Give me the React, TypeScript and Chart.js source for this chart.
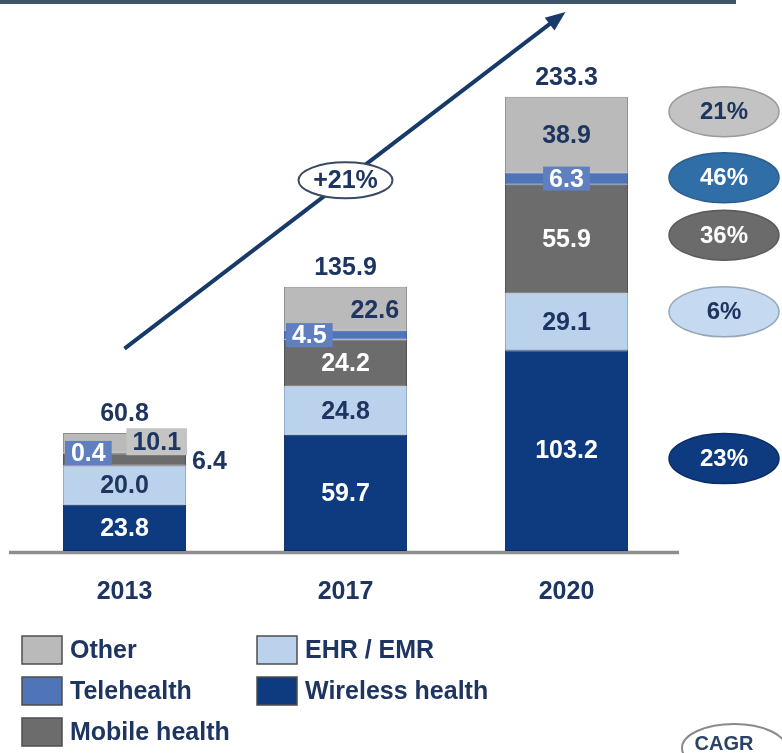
import React, { useEffect, useRef } from 'react';
import { Chart, registerables } from 'chart.js';

Chart.register(...registerables);

// ---------- data ----------
const categories = ['2013', '2017', '2020'];
const wirelessHealth = [23.8, 59.7, 103.2];
const ehrEmr = [20.0, 24.8, 29.1];
const mobileHealth = [6.4, 24.2, 55.9];
const telehealth = [0.4, 4.5, 6.3];
const otherValues = [10.1, 22.6, 38.9];
const totals = [60.8, 135.9, 233.3];
// CAGR per series, in dataset order: Wireless, EHR, Mobile, Telehealth, Other
const cagrLabels = ['23%', '6%', '36%', '46%', '21%'];
const overallCagr = '+21%';
const cagrKey = 'CAGR';

// ---------- styles ----------
const FONT = '"Liberation Sans", Arial, Helvetica, sans-serif';
const NAVY = '#1d3560';
const seriesNames = ['Wireless health', 'EHR / EMR', 'Mobile health', 'Telehealth', 'Other'];
const fills = ['#0e3a7f', '#bad2ec', '#6c6c6c', '#5074b8', '#bababa'];
const borders = ['#0a2c62', '#8ea6c4', '#4a4a4a', '#3b5f9f', '#8c8c8c'];
const labelColors = ['#ffffff', NAVY, '#ffffff', '#ffffff', NAVY];
// label placement per dataset / category
const labelModes = [
  ['c', 'c', 'c'],
  ['c', 'c', 'c'],
  ['or', 'c', 'c'],
  ['bl', 'bl', 'bc'],
  ['br', 'r', 'c'],
];
const ovalFills = ['#0e3a80', '#c5daf0', '#6b6b6b', '#2f6ea6', '#c3c3c3'];
const ovalStrokes = ['#0a2d66', '#95a6b8', '#5a5a5a', '#2a5d8c', '#9a9a9a'];
const ovalText = ['#ffffff', NAVY, '#ffffff', '#ffffff', NAVY];
const ovalOffsets = [8, -10, -4, -1, -23];
const legendCols = [[4, 3, 2], [1, 0]];

function ellipse(ctx: CanvasRenderingContext2D, cx: number, cy: number, rx: number, ry: number, fill: string | null, stroke: string | null, lw: number) {
  ctx.beginPath();
  ctx.ellipse(cx, cy, rx, ry, 0, 0, Math.PI * 2);
  if (fill) { ctx.fillStyle = fill; ctx.fill(); }
  if (stroke) { ctx.strokeStyle = stroke; ctx.lineWidth = lw; ctx.stroke(); }
}

const overlay = {
  id: 'overlay',
  beforeDatasetsDraw(chart: any) {
    const ctx: CanvasRenderingContext2D = chart.ctx;
    const xs = chart.scales.x, ys = chart.scales.y;
    const by = ys.getPixelForValue(0);
    ctx.save();
    ctx.strokeStyle = '#8e8e8e';
    ctx.lineWidth = 3.5;
    ctx.beginPath();
    ctx.moveTo(xs.left - 5, by + 1.5);
    ctx.lineTo(xs.right + 2, by + 1.5);
    ctx.stroke();
    ctx.restore();
  },
  afterDatasetsDraw(chart: any) {
    const ctx: CanvasRenderingContext2D = chart.ctx;
    const ys = chart.scales.y;
    ctx.save();
    // top rule
    ctx.strokeStyle = '#3e546d';
    ctx.lineWidth = 4;
    ctx.beginPath();
    ctx.moveTo(0, 2);
    ctx.lineTo(736, 2);
    ctx.stroke();

    ctx.font = `bold 25px ${FONT}`;
    ctx.textBaseline = 'middle';

    // segment labels
    chart.data.datasets.forEach((ds: any, di: number) => {
      const meta = chart.getDatasetMeta(di);
      meta.data.forEach((el: any, ci: number) => {
        const p = el.getProps(['x', 'y', 'base', 'width'], true);
        const left = p.x - p.width / 2, right = p.x + p.width / 2;
        const cy = (p.y + p.base) / 2;
        const txt = Number(ds.data[ci]).toFixed(1);
        const mode = labelModes[di][ci];
        const tw = ctx.measureText(txt).width;
        if (mode === 'c') {
          ctx.textAlign = 'center';
          ctx.fillStyle = labelColors[di];
          ctx.fillText(txt, p.x, cy + 1);
        } else if (mode === 'r') {
          ctx.textAlign = 'right';
          ctx.fillStyle = NAVY;
          ctx.fillText(txt, right - 8, cy + 2);
        } else if (mode === 'or') {
          ctx.textAlign = 'left';
          ctx.fillStyle = NAVY;
          ctx.fillText(txt, right + 6, cy + 3);
        } else if (mode === 'bl' || mode === 'bc') {
          const bw = tw + 12, bh = 24;
          const bx = mode === 'bl' ? left + 2 : p.x - bw / 2;
          ctx.fillStyle = '#5f7fbf';
          ctx.fillRect(bx, cy - bh / 2, bw, bh);
          ctx.textAlign = 'center';
          ctx.fillStyle = '#ffffff';
          ctx.fillText(txt, bx + bw / 2, cy + 1);
        } else if (mode === 'br') {
          const bw = tw + 12, bh = 27;
          const bx = right - bw + 1;
          ctx.fillStyle = '#c4c4c4';
          ctx.fillRect(bx, cy - bh / 2 - 1, bw, bh);
          ctx.textAlign = 'center';
          ctx.fillStyle = NAVY;
          ctx.fillText(txt, bx + bw / 2, cy);
        }
      });
    });

    // totals
    const topMeta = chart.getDatasetMeta(chart.data.datasets.length - 1);
    topMeta.data.forEach((el: any, ci: number) => {
      const p = el.getProps(['x', 'y'], true);
      ctx.textAlign = 'center';
      ctx.fillStyle = NAVY;
      ctx.fillText(totals[ci].toFixed(1), p.x, p.y - 19);
    });

    // growth arrow
    const m0 = chart.getDatasetMeta(0).data;
    const sx = m0[0].x, sy = ys.getPixelForValue(104);
    const ex = m0[2].x - 1, ey = ys.getPixelForValue(277);
    const ang = Math.atan2(ey - sy, ex - sx);
    const hl = 20, hw = 8;
    ctx.strokeStyle = '#173a6a';
    ctx.fillStyle = '#173a6a';
    ctx.lineWidth = 4;
    ctx.beginPath();
    ctx.moveTo(sx, sy);
    ctx.lineTo(ex - Math.cos(ang) * hl * 0.8, ey - Math.sin(ang) * hl * 0.8);
    ctx.stroke();
    ctx.beginPath();
    ctx.moveTo(ex, ey);
    ctx.lineTo(ex - Math.cos(ang) * hl - Math.sin(ang) * hw, ey - Math.sin(ang) * hl + Math.cos(ang) * hw);
    ctx.lineTo(ex - Math.cos(ang) * hl + Math.sin(ang) * hw, ey - Math.sin(ang) * hl - Math.cos(ang) * hw);
    ctx.closePath();
    ctx.fill();

    const ox = m0[1].x, oy = ys.getPixelForValue(190.5);
    ellipse(ctx, ox, oy, 47, 18, '#ffffff', '#3a4a60', 2);
    ctx.textAlign = 'center';
    ctx.fillStyle = NAVY;
    ctx.fillText(overallCagr, ox, oy + 1);

    // CAGR ovals (aligned to 2020 segments)
    ctx.font = `bold 24px ${FONT}`;
    chart.data.datasets.forEach((ds: any, di: number) => {
      const el = chart.getDatasetMeta(di).data[2];
      const p = el.getProps(['y', 'base'], true);
      const cy = (p.y + p.base) / 2 + ovalOffsets[di];
      ellipse(ctx, 724, cy, 55, 25, ovalFills[di], ovalStrokes[di], 1.5);
      ctx.fillStyle = ovalText[di];
      ctx.textAlign = 'center';
      ctx.fillText(cagrLabels[di], 724, cy + 1);
    });

    // legend
    ctx.font = `bold 25px ${FONT}`;
    const colX = [22, 257];
    const rowY = [636, 677, 718];
    legendCols.forEach((col, c) => {
      col.forEach((di, r) => {
        const bx = colX[c], by = rowY[r];
        ctx.fillStyle = fills[di];
        ctx.fillRect(bx, by, 40, 28);
        ctx.strokeStyle = '#4d4d4d';
        ctx.lineWidth = 1.5;
        ctx.strokeRect(bx, by, 40, 28);
        ctx.fillStyle = NAVY;
        ctx.textAlign = 'left';
        ctx.fillText(chart.data.datasets[di].label, bx + 48, by + 15);
      });
    });

    // CAGR key
    ellipse(ctx, 734, 748, 52, 24, '#ffffff', '#8a8a8a', 2);
    ctx.font = `bold 20px ${FONT}`;
    ctx.fillStyle = '#2a4365';
    ctx.textAlign = 'center';
    ctx.fillText(cagrKey, 724, 744);

    ctx.restore();
  },
};

export default function App() {
  const ref = useRef<HTMLCanvasElement | null>(null);
  useEffect(() => {
    if (!ref.current) return;
    const seriesData = [wirelessHealth, ehrEmr, mobileHealth, telehealth, otherValues];
    const chart = new Chart(ref.current, {
      type: 'bar',
      data: {
        labels: categories,
        datasets: seriesData.map((d, i) => ({
          label: seriesNames[i],
          data: d,
          backgroundColor: fills[i],
          borderColor: borders[i],
          borderWidth: 1,
          borderSkipped: false,
          barPercentage: 0.557,
          categoryPercentage: 1,
        })),
      },
      options: {
        animation: false,
        responsive: false,
        devicePixelRatio: 1,
        layout: { padding: { left: 14, right: 105, top: 64.5, bottom: 142 } },
        plugins: { legend: { display: false }, tooltip: { enabled: false } },
        scales: {
          x: {
            stacked: true,
            grid: { display: false, drawTicks: false },
            border: { display: false },
            ticks: { color: NAVY, font: { family: FONT, size: 25, weight: 'bold' }, padding: 26 },
            afterFit: (s: any) => { s.height = 60; },
          },
          y: {
            stacked: true,
            display: false,
            min: 0,
            max: 250,
          },
        },
      } as any,
      plugins: [overlay],
    });
    return () => chart.destroy();
  }, []);
  return (
    <div style={{ position: 'absolute', left: 0, top: 0, width: 782, height: 753, background: '#ffffff' }}>
      <canvas ref={ref} width={782} height={753} style={{ width: 782, height: 753, display: 'block' }} />
    </div>
  );
}
